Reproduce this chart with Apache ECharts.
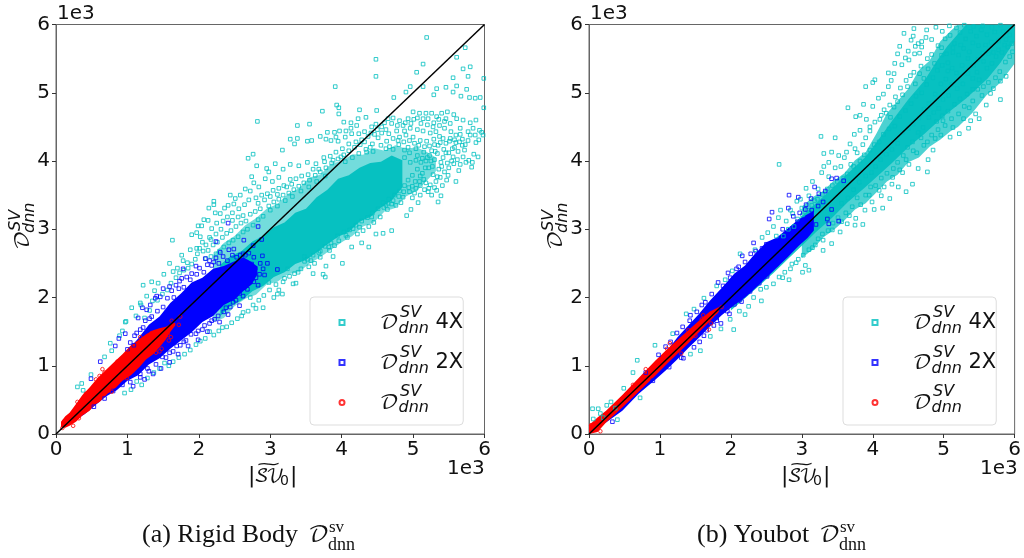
<!DOCTYPE html>
<html>
<head>
<meta charset="utf-8">
<title>Rigid Body and Youbot</title>
<style>html,body{margin:0;padding:0;background:#fff}#main{width:1024px;height:558px}</style>
<script src="https://cdn.jsdelivr.net/npm/echarts@6/dist/echarts.min.js"></script>
</head>
<body>
<div id="main"></div>
<script>
// tick labels, in units of 1e3
var tickValues = [0, 1000, 2000, 3000, 4000, 5000, 6000];
var diagonal = [[0, 0], [6000, 6000]];

var rigidMid4x = [[2200,1640,2620],[2350,1700,2800],[2500,1870,2900],[2650,1980,3060],[2800,2040,3160],[2950,2190,3300],[3100,2230,3370],[3250,2340,3520],[3400,2370,3600],[3550,2500,3760],[3700,2590,3800],[3850,2700,3960],[4000,2810,4000],[4150,2900,4100],[4300,3040,4090],[4450,3100,4190],[4600,3260,4150],[4750,3310,4230],[4900,3480,4180],[5050,3560,4200],[5200,3720,4130],[5320,3850,4050]];
var rigidCore4x = [[2300,1730,2480],[2450,1880,2610],[2600,1960,2680],[2750,2090,2820],[2900,2170,2900],[3050,2300,3030],[3200,2370,3100],[3350,2490,3240],[3500,2550,3300],[3650,2660,3470],[3800,2780,3580],[3950,2890,3740],[4100,2960,3790],[4250,3110,3900],[4400,3180,3970],[4550,3320,3990],[4700,3420,4080],[4850,3610,4010]];
var rigidBand2x = [[90,90,200],[250,190,360],[400,290,530],[550,420,710],[700,550,890],[850,640,1060],[1000,780,1220],[1150,860,1400],[1300,1020,1600],[1450,1110,1720],[1600,1250,1920],[1750,1370,2060],[1900,1490,2220],[2050,1640,2290],[2200,1730,2420],[2350,1890,2460],[2500,1970,2530],[2620,2090,2590],[2740,2190,2520],[2820,2340,2450]];
var rigidBand1x = [[70,100,180],[130,90,260],[190,120,310],[280,180,440],[370,270,570],[470,340,680],[540,430,770],[610,470,850],[720,590,960],[840,680,1080],[930,780,1170],[1050,860,1300],[1170,980,1390],[1260,1090,1460],[1360,1170,1520],[1450,1270,1550],[1540,1390,1570],[1610,1510,1610],[1670,1590,1630]];
var youbotMid4x = [[3000,2580,3330],[3150,2700,3470],[3300,2880,3560],[3450,2990,3710],[3600,3130,3820],[3750,3290,4010],[3900,3380,4130],[4050,3540,4400],[4200,3700,4700],[4350,3800,4880],[4500,3980,5060],[4650,4050,5330],[4800,4210,5470],[4950,4310,5750],[5100,4440,5910],[5200,4500,6000],[5400,4700,6000],[5600,4960,6000],[5800,5150,6000],[6000,5430,6000]];
var youbotCore4x = [[2000,1810,2180],[2300,2080,2500],[2600,2360,2790],[2800,2560,3000],[3000,2760,3190],[3200,2960,3380],[3420,3160,3590],[3650,3400,3820],[3890,3610,4050],[4080,3790,4310],[4260,3960,4570],[4500,4200,4900],[4730,4400,5180],[4900,4560,5460],[5050,4700,5680],[5200,4820,5860],[5320,4920,6000],[5620,5210,6000],[5800,5440,6000],[6000,5760,6000]];
var youbotBand2x = [[0,0,90],[240,170,320],[470,340,540],[700,590,780],[930,790,1000],[1100,950,1220],[1250,1100,1420],[1400,1260,1590],[1550,1410,1760],[1700,1570,1950],[1870,1740,2140],[2050,1890,2350],[2200,2000,2470],[2330,2120,2630],[2500,2290,2810],[2650,2440,2880],[2800,2590,3010],[2950,2750,3140],[3080,2870,3220],[3170,2980,3270]];
var youbotBand1x = [[0,0,130],[120,30,240],[240,170,340],[470,390,570],[700,620,820],[930,850,1070],[1100,1030,1240],[1250,1180,1380],[1400,1330,1520],[1550,1490,1660],[1700,1650,1790],[1830,1790,1860]];

// stray markers around the clouds
var rigidPoints4x = [[5190,5810],[5730,5660],[4480,5490],[5610,5520],[5140,5420],[5800,5380],[5700,5350],[5050,5300],[4480,5240],[5770,5240],[5560,5220],[3910,5090],[4960,5090],[5460,5080],[5610,5100],[5140,5090],[5330,5060],[4900,5010],[5560,5010],[5750,5050],[5290,4970],[4730,4930],[5670,4950],[5790,4930],[5870,4920],[5940,4930],[3930,4820],[3960,4780],[3730,4730],[3960,4690],[4250,4750],[4490,4740],[5990,5210],[5990,4780],[5980,4380],[2820,4580],[3380,4520],[3550,4540],[3280,4320],[3380,4330],[3340,4250],[3520,4290],[3580,4300],[3700,4360],[3170,4160],[2760,4100],[2690,4040],[2810,3930],[2950,3890],[2980,3840],[2740,3770],[2210,3410],[2210,3360],[2140,3310],[2410,3350],[2490,3370],[1990,3050],[2040,3050],[1970,2950],[1900,2920],[2020,2890],[1630,2840],[1760,2620],[1590,2500],
[5820,3910],[5640,3860],[5490,3790],[5600,3700],[5390,3490],[5350,3400],[5210,3550],[5260,3500],[5070,3390],[4970,3290],[4910,3200],[4700,2980],[4580,2940],[4480,2930],[4380,2740],[4280,2800],[4140,2740],[4010,2500],[3880,2600],[3780,2460],[3740,2340],[3770,2300],[3320,2200],[3180,2230],[3120,2110],[3050,2000],[2900,1850],[2600,1730],[2800,1840],[2330,1560],[2150,1500],[2020,1360],[1520,1040],[1200,720],[300,690],[980,1650],[1190,1890],[3100,2050],[3170,2050],[3360,2210],[3600,2350],
[5000,4720],[5090,4700],[5180,4700],[5260,4700],[5330,4650],[5400,4700],[5480,4720],[5570,4680],[5610,4620],[5700,4600],[5800,4560],[5880,4600],[5930,4450],[5960,4420],[5870,4380],[5770,4300],[5690,4320],[5600,4380],[5530,4430],[5440,4480],[5370,4520],[5280,4500],[5200,4530],[5110,4550],[5010,4610],[4930,4620],[4860,4520],[4780,4520],[4700,4550],[4600,4560],[4620,4460],[4500,4460],[4420,4500],[4340,4640],[4230,4620],[4130,4560],[4030,4570],[3970,4440],[3900,4420],[3800,4420],[3780,4320],[3850,4300],[3950,4290],[4050,4350],[4140,4400],[4240,4400],[4320,4280],[4400,4200],[4510,4340],[4630,4290],[4720,4330],[4810,4350],[4900,4380],[5000,4350],[5100,4300],[5190,4290],[5290,4320],[5370,4360],[5460,4260],[5550,4180],[5630,4140],[5720,4160],[5850,4100],[5910,4060],[5780,4010],[5700,4060],[5620,4020],[5560,4060],[5480,3970],[5420,4050],[5340,4110],[5250,4000],[5170,3900],[5110,3980],[5280,3800],[5360,3880],[5470,3720],[5180,3680],[5100,3640],[5030,3700],[4950,3550],[4860,3470],[4760,3350],[4640,3290],[4540,3180],[4450,3100],[4380,3040],[4300,2980],[4220,2930],[4160,3010],[4060,2910],[3960,2830],[3900,2760],[3830,2690],[3700,2590],[3620,2500],[3540,2450],[3480,2530],
[3070,3960],[3180,3880],[3280,3950],[3400,3930],[3520,3980],[3640,3960],[3750,4050],[3120,3760],[3030,3700],[2930,3740],[2840,3620],[2770,3680],[2720,3560],[2650,3590],[2580,3500],[2510,3450],[2440,3500],[2360,3310],[2300,3230],[2230,3240],[2130,3130],[2070,3140],[2180,3010],[2250,3090],[2340,3120],[2470,3240],[2560,3300],[2620,3200],[2830,3380],[2920,3430],[3000,3480],[3100,3510],[3230,3620],[3300,3660],[2150,2880],[2050,2810],[1970,2720],[1880,2700],[1780,2540],[1840,2510],[1950,2560],[1700,2430],[1640,2380],[1510,2340],[1430,2210],[1380,2100],[1270,2020],[1180,1920],[1060,1850],[1120,1730],[970,1640],[930,1510],[890,1440],[780,1220],[680,1130],[490,870],[380,640],[360,740],[760,1330],[1220,2180],[1340,2230]];
var rigidFringe4x = [[1240,1700],[1310,1810],[1350,1950],[1420,1960],[1490,2050],[1560,2110],[1610,2210],[1680,2290],[1730,2360],[1790,2400],[1850,2430],[1900,2490],[1980,2640],[2060,2680],[2130,2690],[2200,2770],[2260,2810],[2330,2880],[2390,2940],[2450,2980],[2520,3040],[2590,3090],[2660,3120],[2720,3220],[2790,3260],[2860,3300],[2980,3340],[3050,3400],[3120,3440],[3180,3500],[3260,3530],[3330,3580],[3400,3630],[3470,3680],[3550,3720],[3630,3790],[3700,3840],[3780,3900],[3860,3970],[3950,4030],[4030,4090],[4100,4150],[4180,4200],[4260,4240],[4340,4170],[4430,4250],[4550,4230],[4670,4210],[4800,4240],[4930,4200],[5040,4180],[5150,4130],[5260,4150],[5350,4230],[5430,4170],[5520,4330],[5600,4270],[5690,4230],[5770,4430],[5840,4480],[5660,4480],[5520,4550],[5460,4620],[5320,4430],[5240,4410],[5140,4440],[5060,4460],[4960,4480],[4880,4440],[4770,4440],[4660,4400],[4560,4410],[4460,4390],[4370,4360],[4280,4310],[4200,4280],[4100,4250],[4010,4180],[3920,4130],[3840,4070],[3760,3990],[3680,3880],[3600,3880],[3530,3800],[3440,3780],[3360,3740],[3280,3730],[3190,3640],[3120,3600],[3040,3570],[2960,3520],[2880,3500],[2800,3460],[2700,3430],[2640,3360],[2550,3180],[2470,3130],[2400,3180],[2310,3000],[2240,2930],[2170,2850],[2100,2770],[2010,2720],
[5200,4050],[5300,4020],[5390,3980],[5130,3820],[5220,3900],[5320,3700],[5060,3880],[4990,3790],[4930,3720],[5040,3600],[4880,3640],[4810,3560],[4740,3500],[4660,3440],[4580,3390],[4510,3300],[4430,3240],[4360,3170],[4280,3120],[4200,3060],[4110,2990],[4030,2960],[3940,2900],[3850,2800],[3770,2750],[3680,2660],[3600,2620],[3520,2560],[3430,2420],[3340,2350],[3270,2310],[3200,2280],[3080,2190],[2990,2110],[2910,2030],[2840,1960],[2760,1890],[2690,1800],[2620,1780],[2540,1690],[2460,1630],[2390,1570],[2280,1510],[2210,1450],[2090,1400],[1960,1310],[1880,1230],[1800,1170],[1720,1120],[1640,1060],[1580,1000],[1450,960],[1370,900],[1280,820],[1130,770],[1050,650],[960,600],
[5060,4080],[4960,3980],[4880,4050],[4950,4120],[5040,4010],[5130,4040],[5230,4080],[5310,4140],[5180,4000],[5270,3920],[5400,3920],[5460,4120],[5540,4000],[5330,3570],[5100,3500],[4990,3460],[4830,3390],[5100,3780],[4990,3630],[5150,3730],[5240,3650],[5340,3770],[5410,3640],[4720,3420],[4650,3380],[4590,3320],[4420,3180],[4250,3030],[4080,2880],[3820,2740],[3700,2680],[3570,2540],[3390,2370],[3480,2600],[3240,2420],[2980,2220],[2720,2000],
[3990,4060],[3880,4010],[3770,3780],[3650,3700],[3540,3620],[3430,3560],[3310,3480],[3210,3420],[3100,3340],[3000,3280],[2900,3190],[2830,3140],[2760,3060],[2680,3000],[2620,2960],[2550,2890],[2480,2840],[2420,2800],[2350,2740],[2290,2680],[2240,2640],[2170,2600],[2100,2570],[4050,3990],[4150,4050],[4240,4110],[4350,4130],[4440,4140],[4620,4180],[4720,4170],[4880,4160],
[5420,4330],[5510,4290],[5580,4200],[5650,4280],[5730,4240],[5800,4380],[5880,4270],[5920,4310],[5500,4120],[5580,4310],[5660,4390],[5380,4270],[5300,4240],[5230,4220],[5160,4210],[5080,4230],[5020,4260],[4950,4300],[4870,4280],[4790,4300],[5500,3900],[5570,3960],[5660,3950],[5740,3980],[5830,3980],[5440,3840],[5380,3760],[5300,3610],[5220,3600],[5160,3580],[5090,3700],[5020,3530],[4940,3610],[4870,3550],[4800,3480],[4700,3370],[4620,3350],[5290,4560],[5360,4610],[5440,4580],[5210,4620],[5140,4620],[5060,4630],[4970,4550],[4890,4560],[4810,4590],[4720,4630],[4650,4620],[4560,4500],[4480,4540],[4410,4410],[4320,4430],[4210,4520],[4130,4480],[4060,4440],[3920,4350]];
var rigidPoints2x = [[2410,3090],[2830,3040],[2240,2820],[2630,2840],[2880,2850],[2760,2760],[2620,2640],[2580,2620],[2490,2710],[2420,2700],[2300,2660],[2240,2580],[2150,2540],[2090,2570],[1960,2460],[1780,2420],[1760,2280],[1590,2160],[1500,2130],[1460,2010],[1390,1990],[1270,1820],[1210,1850],[1150,1700],[970,1470],[880,1400],[830,1290],[620,1060],[490,810],[2770,2230],[2590,2150],[2560,2280],[2510,2030],[2670,2420],[2700,2360],[2850,2340],[2790,2430],[2740,2490],[2960,2500],[3100,2410],[2890,2610],[2570,1880],[2410,1750],[2290,1640],[2120,1500],[1990,1380],[1850,1290],[1710,1170],[1590,1050],[1470,960],[1360,880],[1240,800],[1080,700],
[1320,1890],[1410,2020],[1620,2100],[1680,2180],[1730,2240],[1830,2300],[1900,2350],[2010,2430],[2120,2480],[2210,2520],[2340,2600],[2470,2620],[2700,2650],[2900,2420],[2920,2330],[2800,2290],[2830,2180],[2680,2240],[2680,2120],[2620,2020],[2520,1960],[2440,1860],[2350,1790],[2220,1680],[2150,1620],[2050,1530],[1960,1470],[1820,1370],[1740,1300],[1640,1210],[1540,1120],[1300,920],[1180,830],[1090,1300],[1000,1240],[1220,1560],[1130,1480],[1310,1690],
[1040,1340],[1100,1440],[1180,1530],[1250,1660],[1340,1720],[1420,1800],[1500,1860],[1560,1990],[1650,2000],[1720,2130],[1790,2150],[1880,2260],[1970,2340],[2070,2370],[2180,2470],[2280,2500],[2400,2540],[2530,2590],[2650,2620],[2770,2590],[2860,2500],[2780,2360],[2720,2300],[2640,2150],[2570,2060],[2480,1930],[2380,1850],[2270,1730],[2180,1660],[2080,1590],[1990,1510],[1890,1460],[1790,1350],[1690,1290],[1590,1190],[1490,1130],[1400,1020],[1280,960],[1180,880],[1040,760],[930,720],[800,630],[680,520],[530,400]];
var rigidPoints1x = [[1740,1720],[1720,1600],[1620,1660],[1480,1250],[1400,1190],[1250,1360],[1090,1210],[860,1060],[650,950],[680,900],[560,800],[780,620],[990,820],[240,120],[320,230],[1580,1370],[1610,1420],[1340,1480],[1180,1420],[1000,1190],[610,850],[420,590],[300,470],[120,190],[90,90],[1450,1210],[1570,1450]];
var youbotPoints4x = [[2680,3950],[3270,4360],[3470,4340],[3310,4110],[3650,4780],[3870,4830],[3900,5090],[4000,5150],[4030,5190],[3760,4650],[3820,4670],[3740,4390],[3680,4250],[3520,4080],[3380,3980],[4440,5870],[4580,5940],[4570,5830],[4380,5680],[4540,5770],[4760,5920],[4640,5720],[4690,5750],[4690,5670],[4590,5570],[4660,5580],[4410,5410],[4460,5510],[4300,5280],[4260,5180],[4220,5090],[4150,4980],[4080,4920],[4000,4800],[3910,4610],[3960,4500],[3820,4450],[3900,4340],[3750,4180],[3600,4050],[3470,3900],[3380,3770],[3280,3830],[3150,3700],[3060,3600],[3100,3490],[2980,3440],[3000,3310],[2870,3230],[2780,3120],[2670,3170],[2600,3040],[2520,2950],[2440,2880],[2340,2700],[2130,2640],[2020,2390],[1920,2260],[1800,2170],[1620,1990],[1480,1830],[1370,1760],[1180,1470],[930,1300],[680,1080],[620,900],[490,670],[310,470],[250,420],[130,370],[50,370],[60,220],[200,240],[160,300],[370,380],
[5800,4900],[5600,4820],[5500,4620],[5450,4690],[5380,4590],[5350,4480],[5220,4400],[5090,4350],[4960,4380],[4850,4160],[4780,4020],[4770,3840],[4640,3890],[4560,3660],[4470,3550],[4360,3620],[4240,3450],[4140,3310],[4020,3290],[3860,3070],[3750,3060],[3540,2960],[3420,2790],[3300,2840],[3300,2690],[3100,2400],[3010,2370],[3050,2470],[2820,2260],[2730,2290],[2600,2200],[2430,1950],[2420,2120],[2200,1750],[2040,1530],[1570,1220],[1430,1170],[720,530],[400,210],
[5930,5530],[5870,5450],[5790,5310],[5730,5220],[5700,5060],[5630,5150],[5540,4960],[5480,5050],[5410,4880],[5290,4800],[5210,4690],[5110,4620],[5020,4520],[4920,4460],[4880,4330],[4720,4230],[4620,4120],[4510,3950],[4420,3830],[4280,3760],[4160,3620],[4090,3570],[3950,3500],[3830,3360],[3670,3200],[3560,3110],[3430,2990],[3230,2860],[3150,2730],[2950,2560],[2860,2490],
[4220,5290],[4310,5430],[4350,5570],[4500,5610],[4510,5480],[4600,5680],[4750,5810],[4830,5780],[4890,5960],[4980,5900],[5080,5980],[5180,5950],[5290,5990],[5420,5970],[5550,5980],[5680,5960],[5800,5990],[4770,5500],[4680,5390],[4580,5300],[4470,5180],[4390,5070],[4320,4940],[4240,4820],[4190,4700],[4120,4670],[4030,4570],[3960,4440],[3860,4240],[3780,4120],[3690,3950],[3630,4130],[3550,3920],[3420,4130],[3310,3920],[3230,3590],[3180,3420],[2930,3410],[2840,3280],[2700,3280],[2640,2900]];
var youbotFringe4x = [[4100,4610],[4160,4750],[4250,4640],[4300,4790],[4350,4870],[4420,4970],[4490,5090],[4530,5250],[4600,5130],[4660,5280],[4720,5210],[4780,5350],[4830,5560],[4870,5430],[4920,5690],[4970,5550],[5020,5790],[5090,5840],[5150,5720],[5230,5880],[5310,5790],[5380,5900],[5460,5830],[5530,5920],[5610,5850],[5720,5890],[5840,5900],[5930,5850],[5880,5780],[5770,5760],[5670,5740],[5590,5700],[5490,5690],[5410,5730],[5360,5600],[5280,5650],[5210,5550],[5130,5590],[5060,5440],[4980,5400],[4910,5330],[4850,5220],[4760,5120],[4690,5000],[4610,4950],[4540,4840],[4460,4740],[4380,4650],[4310,4510],[4230,4470],[4150,4390],[4090,4280],[4020,4240],[3960,4160],[3880,4090],[3820,4000],[3730,3920],[3640,3810],[3590,3750],[3500,3700],[3430,3640],[3360,3590],[3290,3510],[3220,3440],[3140,3350],[3080,3280],[3010,3210],[2940,3150],[2890,3040],[2810,3000],[2740,2900],
[5970,5600],[5900,5670],[5820,5590],[5740,5530],[5680,5430],[5610,5360],[5560,5460],[5470,5300],[5410,5210],[5340,5280],[5270,5130],[5190,5060],[5110,5120],[5070,4960],[4990,4900],[4930,4770],[4860,4710],[4790,4640],[4710,4490],[4640,4420],[4560,4280],[4490,4200],[4430,4080],[4350,3980],[4290,3890],[4200,3820],[4120,3750],[4040,3640],[3970,3620],[3900,3500],[3780,3460],[3710,3330],[3620,3240],[3510,3170],[3440,3090],[3370,2980],[3290,2930],[3190,2770],[3100,2700],[3020,2620],[2920,2510],[2840,2420],[2760,2370],[2680,2300],[2500,2150],[2320,2000],[2250,1870],[2120,1800],[1990,1680],[1860,1540],[1710,1430],
[5960,5720],[5860,5700],[5770,5630],[5700,5590],[5630,5570],[5550,5580],[5480,5490],[5420,5400],[5340,5500],[5260,5400],[5180,5290],[5120,5360],[5030,5200],[4960,5130],[5040,5570],[4970,5660],[5130,5660],[5240,5700],[5060,5320],[4880,4980],[4790,4840],[4720,4760],[4650,4630],[4570,4540],[4500,4480],[4420,4420],[4350,4260],[4270,4170],[4190,4100],[4110,4020],[4040,3920],[3980,3830],[3900,3780],[3810,3690],[3730,3580],[3650,3460],[3560,3380],[5500,5190],[5410,5050],[5330,4980],[5230,4910],[5150,4830],[5060,4730],[4980,4660],[4900,4580],[5800,5170],[5880,5240],[5660,4990],[5560,5090],[5360,4780],[5280,4620],[5130,4490],[4990,4590],[4830,4380],[4770,4280],[4680,4340],[4570,4150],[4470,4020],[4380,3870],[4270,3660],[4120,3490],[3990,3400],[3890,3280],[3760,3160],[3640,3080]];
var youbotPoints2x = [[2540,3150],[2580,3250],[2810,3310],[2820,3500],[2950,3470],[3130,3450],[3180,3620],[3240,3520],[3490,3750],[3420,3740],[3050,3290],[3330,3560],[3590,3710],[3360,3150],[3520,3120],[3380,3080],[2320,2800],[2500,2780],[2280,2640],[2160,2610],[2220,2350],[2080,2420],[1960,2360],[1820,2220],[1590,1890],[1430,1740],[1320,1570],[1150,1350],[980,1160],[800,900],[2640,2490],[2510,2310],[2400,2210],[2270,2090],[2120,1960],[1980,1760],[1860,1620],[1760,1590],[1560,1350],[1300,1120],[1130,980],[900,780],[330,180],[2730,3000],[2940,3110],
[2880,3190],[2970,3240],[3060,3360],[3140,3280],[3230,3340],[3300,3400],[3420,3290],[3200,3070],[3090,2990],[2990,2870],[2870,2750],[2760,2650],[2680,2570],[2580,2500],[2450,2330],[2340,2240],[2200,2060],[2050,1900],[1950,1800],[1800,1660],[1660,1520],[2440,2720],[2350,2680],[2200,2520],[2110,2450],[1990,2290],[1890,2170],[1730,2050],[1640,1930],[1520,1790],[1420,1660],[1240,1480],[1080,1280],[1330,1110],[1480,1270],[1620,1440],[1800,1700],[2150,1940]];
var youbotPoints1x = [[1870,1860],[1790,1790],[1610,1740],[1400,1520],[1140,1330],[800,950],[620,720],[1300,1180],[1690,1530],[30,130],[160,40],[1720,1620],[1590,1680],[1500,1440],[1100,1250]];

var COLOR_4X = '#00BFBF', COLOR_2X = '#0000FF', COLOR_1X = '#FF0000';
var MATH_FONT = '"DejaVu Math TeX Gyre","DejaVu Sans"';

function bandSeries(rows, color, opacity, index) {
	return {
		type: 'custom', xAxisIndex: index, yAxisIndex: index, silent: true, clip: true,
		data: rows.map(function (r) { return r[0]; }),
		renderItem: function (params, api) {
			if (params.dataIndex !== 0) return null;
			var pts = [];
			rows.forEach(function (r) { pts.push(api.coord([r[0], r[2]])); });
			rows.slice().reverse().forEach(function (r) { pts.push(api.coord([r[0], r[1]])); });
			return { type: 'polygon', shape: { points: pts }, style: { fill: color, opacity: opacity } };
		}
	};
}

function pointSeries(name, pts, color, symbol, index) {
	return {
		name: name, type: 'scatter', xAxisIndex: index, yAxisIndex: index, data: pts,
		symbol: symbol, symbolSize: 3.6, silent: true,
		itemStyle: { color: 'rgba(255,255,255,0)', borderColor: color, borderWidth: 1, opacity: 0.8 }
	};
}

function legendFor(left) {
	return {
		left: left, top: 297, orient: 'vertical', selectedMode: false,
		padding: [15, 0, 12, 28.5], itemWidth: 5, itemHeight: 5, itemGap: 19,
		backgroundColor: 'rgba(255,255,255,0.8)', borderColor: '#ddd', borderWidth: 1, borderRadius: 4,
		data: ['4X', '2X', '1X'],
		formatter: function (n) {
			return '{d|𝒟}{x|' + (n === '1X' ? '' : n) + '}';
		},
		textStyle: {
			rich: {
				d: { width: 56, height: 30, fontFamily: MATH_FONT, fontSize: 21, color: '#111', padding: [0, 0, 0, 30] },
				x: { width: 38, height: 30, fontFamily: 'DejaVu Sans', fontSize: 21, color: '#111' }
			}
		}
	};
}

// the script letter with SV above and dnn below it
function dLabel(x, y, rotation, d, small) {
	return {
		type: 'group', x: x, y: y, rotation: rotation, silent: true, z: 20,
		children: [
			{ type: 'text', x: 0, y: 0, style: { text: '𝒟', font: d + 'px ' + MATH_FONT, fill: '#111', textVerticalAlign: 'middle' } },
			{ type: 'text', x: 19, y: -7, style: { text: 'SV', font: 'italic ' + small + 'px "DejaVu Sans"', fill: '#111', textVerticalAlign: 'middle' } },
			{ type: 'text', x: 17, y: 7, style: { text: 'dnn', font: 'italic ' + small + 'px "DejaVu Sans"', fill: '#111', textVerticalAlign: 'middle' } }
		]
	};
}

function plain(x, y, text, font) {
	return { type: 'text', x: x, y: y, silent: true, z: 20, style: { text: text, font: font, fill: '#111', textVerticalAlign: 'middle' } };
}

function caption(x, dx, text) {
	var serif = '"Liberation Serif"';
	return [
		plain(x, 535, text, '26px ' + serif),
		plain(x + dx, 535, '𝒟', '23px ' + MATH_FONT),
		plain(x + dx + 21, 528, 'sv', '17px ' + serif),
		plain(x + dx + 20, 545, 'dnn', '18px ' + serif)
	];
}

function panelText(offset) {
	var out = [];
	out.push(plain(57 + offset, 14, '1e3', '20px "DejaVu Sans"'));
	out.push(plain(447 + offset, 469, '1e3', '20px "DejaVu Sans"'));
	out.push(plain(248 + offset, 476, '|', '22px "DejaVu Sans"'));
	out.push(plain(254 + offset, 476, '𝒮', '19px ' + MATH_FONT));
	out.push(plain(266 + offset, 476, '𝒱', '19px ' + MATH_FONT));
	var tilde = plain(255 + offset, 465, '~', '14px "DejaVu Sans"');
	tilde.scaleX = 2.3;
	out.push(tilde);
	out.push(plain(280 + offset, 481, '0', '14px "DejaVu Sans"'));
	out.push(plain(290 + offset, 476, '|', '22px "DejaVu Sans"'));
	out.push(dLabel(23 + offset, 250, Math.PI / 2, 21, 16));
	[322, 362, 401].forEach(function (y) {
		out.push(plain(400 + offset, y - 9, 'SV', 'italic 16px "DejaVu Sans"'));
		out.push(plain(398.5 + offset, y + 7, 'dnn', 'italic 16px "DejaVu Sans"'));
	});
	return out;
}

function axisPair(index) {
	return {
		min: 0, max: 6000, interval: 1000, gridIndex: index, type: 'value',
		splitLine: { show: false },
		axisLine: { show: true, onZero: false, lineStyle: { color: '#666', width: 1 } },
		axisTick: { show: true, length: 4, lineStyle: { color: '#333', width: 1 } },
		axisLabel: {
			show: true, fontFamily: 'DejaVu Sans', fontSize: 20, color: '#111', margin: 6,
			showMinLabel: true, showMaxLabel: true,
			customValues: tickValues,
			formatter: function (v) { return v / 1000; }
		}
	};
}

var chart = echarts.init(document.getElementById('main'), null, { renderer: 'canvas' });
chart.setOption({
	animation: false,
	backgroundColor: '#fff',
	grid: [
		{ left: 56, top: 24.5, width: 428.5, height: 409.5, show: true, borderColor: '#666', borderWidth: 1, backgroundColor: '#fff' },
		{ left: 589, top: 24.5, width: 428.5, height: 409.5, show: true, borderColor: '#666', borderWidth: 1, backgroundColor: '#fff' }
	],
	xAxis: [axisPair(0), axisPair(1)],
	yAxis: [axisPair(0), axisPair(1)],
	legend: [legendFor(310), legendFor(843)],
	series: [
		bandSeries(rigidMid4x, COLOR_4X, 0.55, 0),
		bandSeries(rigidCore4x, COLOR_4X, 0.95, 0),
		pointSeries('4X', rigidPoints4x.concat(rigidFringe4x), COLOR_4X, 'rect', 0),
		bandSeries(rigidBand2x, COLOR_2X, 1, 0),
		pointSeries('2X', rigidPoints2x, COLOR_2X, 'rect', 0),
		bandSeries(rigidBand1x, COLOR_1X, 1, 0),
		pointSeries('1X', rigidPoints1x, COLOR_1X, 'circle', 0),
		{ type: 'line', data: diagonal, xAxisIndex: 0, yAxisIndex: 0, showSymbol: false, silent: true, lineStyle: { color: '#000', width: 1.5 } },
		bandSeries(youbotMid4x, COLOR_4X, 0.7, 1),
		bandSeries(youbotCore4x, COLOR_4X, 0.9, 1),
		pointSeries('4X', youbotPoints4x.concat(youbotFringe4x), COLOR_4X, 'rect', 1),
		bandSeries(youbotBand2x, COLOR_2X, 1, 1),
		pointSeries('2X', youbotPoints2x, COLOR_2X, 'rect', 1),
		bandSeries(youbotBand1x, COLOR_1X, 1, 1),
		pointSeries('1X', youbotPoints1x, COLOR_1X, 'circle', 1),
		{ type: 'line', data: diagonal, xAxisIndex: 1, yAxisIndex: 1, showSymbol: false, silent: true, lineStyle: { color: '#000', width: 1.5 } }
	],
	graphic: panelText(0).concat(panelText(533), caption(142, 166, '(a) Rigid Body '), caption(697, 122, '(b) Youbot '))
});
</script>
</body>
</html>
